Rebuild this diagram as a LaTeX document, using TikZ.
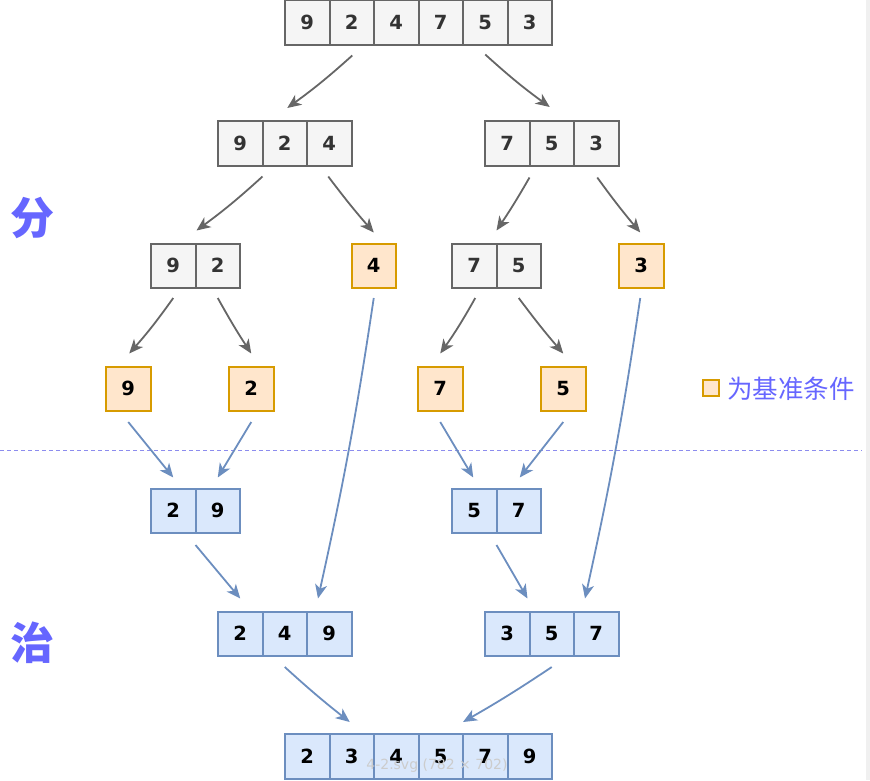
\documentclass[tikz,border=0pt]{standalone}
\usepackage{fontspec}
\setmainfont{DejaVu Sans}
\newfontfamily\cjk{Noto Sans CJK SC}
\usetikzlibrary{arrows.meta,calc}
\definecolor{gstroke}{HTML}{666666}
\definecolor{gfill}{HTML}{F5F5F5}
\definecolor{ostroke}{HTML}{D79B00}
\definecolor{ofill}{HTML}{FFE6CC}
\definecolor{bstroke}{HTML}{6C8EBF}
\definecolor{bfill}{HTML}{DAE8FC}
\definecolor{purp}{HTML}{6666FF}
\definecolor{dashc}{HTML}{8C8CEE}
\newcommand\mkrow[5]{%
  \foreach \v [count=\i] in {#5} {\node[#2, anchor=north west] (#1\i) at ({#3+(\i-1)*44.5},#4) {\v};}%
  \foreach \v [count=\i] in {#5} {\draw[#2border] (#1\i.north west) rectangle (#1\i.south east);}}
\tikzset{
  cellbase/.style={minimum width=44.5pt,minimum height=44.5pt,inner sep=0pt,outer sep=0pt,font=\fontsize{19.5}{19.5}\selectfont\bfseries},
  cellg/.style={cellbase,fill=gfill,text=black!80},
  cello/.style={cellbase,fill=ofill},
  cellb/.style={cellbase,fill=bfill},
  cellgborder/.style={draw=gstroke,line width=2pt},
  celloborder/.style={draw=ostroke,line width=2pt},
  cellbborder/.style={draw=bstroke,line width=2pt},
  tipst/.style={-{Stealth[length=14pt,width=12pt,inset=4pt]}},
  ga/.style={draw=gstroke,line width=1.8pt,tipst},
  ba/.style={draw=bstroke,line width=1.8pt,tipst},
  bigtxt/.style={text=purp,font=\fontsize{44}{44}\selectfont\cjk\bfseries},
}
\begin{document}
\begin{tikzpicture}[x=1pt,y=-1pt]
\useasboundingbox (0,0) rectangle (870,780);
\fill[black!6] (866,0) rectangle (870,780);
% dashed divider
\coordinate (dl) at (0,450);
\coordinate (dr) at (862,450);
\draw[dashc,line width=1pt,dash pattern=on 4pt off 3pt] (dl) -- (dr);
% rows
\mkrow{a}{cellg}{285}{0}{9,2,4,7,5,3}
\mkrow{b}{cellg}{218}{121}{9,2,4}
\mkrow{c}{cellg}{485}{121}{7,5,3}
\mkrow{d}{cellg}{151}{243.5}{9,2}
\mkrow{e}{cello}{351.5}{243.5}{4}
\mkrow{f}{cellg}{452}{243.5}{7,5}
\mkrow{g}{cello}{619}{243.5}{3}
\mkrow{h}{cello}{106}{366.5}{9}
\mkrow{i}{cello}{229}{366.5}{2}
\mkrow{j}{cello}{418}{366.5}{7}
\mkrow{k}{cello}{541}{366.5}{5}
\mkrow{l}{cellb}{151}{488.5}{2,9}
\mkrow{m}{cellb}{452}{488.5}{5,7}
\mkrow{n}{cellb}{218}{611.5}{2,4,9}
\mkrow{o}{cellb}{485}{611.5}{3,5,7}
\mkrow{p}{cellb}{285}{734}{2,3,4,5,7,9}
% side labels
\node[bigtxt] (fen) at (32,218) {分};
\node[bigtxt] (zhi) at (32,643) {治};
% legend
\node[draw=ostroke,fill=ofill,line width=2pt,minimum size=16pt,inner sep=0pt] (lg) at (711,388) {};
\node[anchor=west,text=purp,font=\fontsize{25.5}{25.5}\selectfont\cjk,inner sep=0pt] (lt) at (727,389) {为基准条件};
% split arrows
\draw[ga] ($(a2.south)+(0.5,11)$) to[bend left=3] ($(b2.north)+(2.5,-13)$);
\draw[ga] ($(a5.south)+(0,10)$) to[bend right=3] ($(c2.north)+(-2,-14)$);
\draw[ga] ($(b1.south east)+(0,11)$) to[bend left=3] ($(d1.north east)+(1,-13)$);
\draw[ga] ($(b3.south)+(-1,11)$) to[bend right=2] ($(e1.north)+(0,-11)$);
\draw[ga] ($(c2.south west)+(0,12)$) to[bend left=2] ($(f1.north east)+(0,-13)$);
\draw[ga] ($(c3.south)+(1,12)$) to[bend right=2] ($(g1.north)+(-1,-11)$);
\draw[ga] ($(d1.south)+(0,10)$) to[bend left=3] ($(h1.north)+(1,-13)$);
\draw[ga] ($(d2.south)+(0,10)$) to[bend right=2] ($(i1.north)+(0,-13)$);
\draw[ga] ($(f1.south)+(1,10)$) to[bend left=3] ($(j1.north)+(0,-13)$);
\draw[ga] ($(f2.south)+(0,10)$) to[bend right=2] ($(k1.north)+(0,-13)$);
% merge arrows
\draw[ba] ($(h1.south)+(0,11)$) -- ($(l1.north)+(0,-11)$);
\draw[ba] ($(i1.south)+(0,11)$) -- ($(l2.north)+(0,-11)$);
\draw[ba] ($(j1.south)+(0,11)$) -- ($(m1.north)+(-1,-11)$);
\draw[ba] ($(k1.south)+(0,11)$) -- ($(m2.north)+(1,-11)$);
\draw[ba] ($(e1.south)+(0,10)$) to[bend left=2] ($(n3.north west)+(11,-13)$);
\draw[ba] ($(g1.south)+(-1,10)$) to[bend left=2] ($(o3.north west)+(11,-13)$);
\draw[ba] ($(l1.south east)+(0,12)$) -- ($(n1.north)+(0,-13)$);
\draw[ba] ($(m1.south east)+(0,12)$) -- ($(o1.north east)+(-2,-13)$);
\draw[ba] ($(n2.south)+(0,11)$) to[bend right=2] ($(p2.north)+(-2,-12)$);
\draw[ba] ($(o2.south)+(0,11)$) to[bend left=2] ($(p4.north east)+(0,-12)$);
% faint overlay caption
\node[text=black!20,font=\fontsize{14}{14}\selectfont] (cap) at (437,766) {4-2.svg (782 × 702)};
\end{tikzpicture}
\end{document}
